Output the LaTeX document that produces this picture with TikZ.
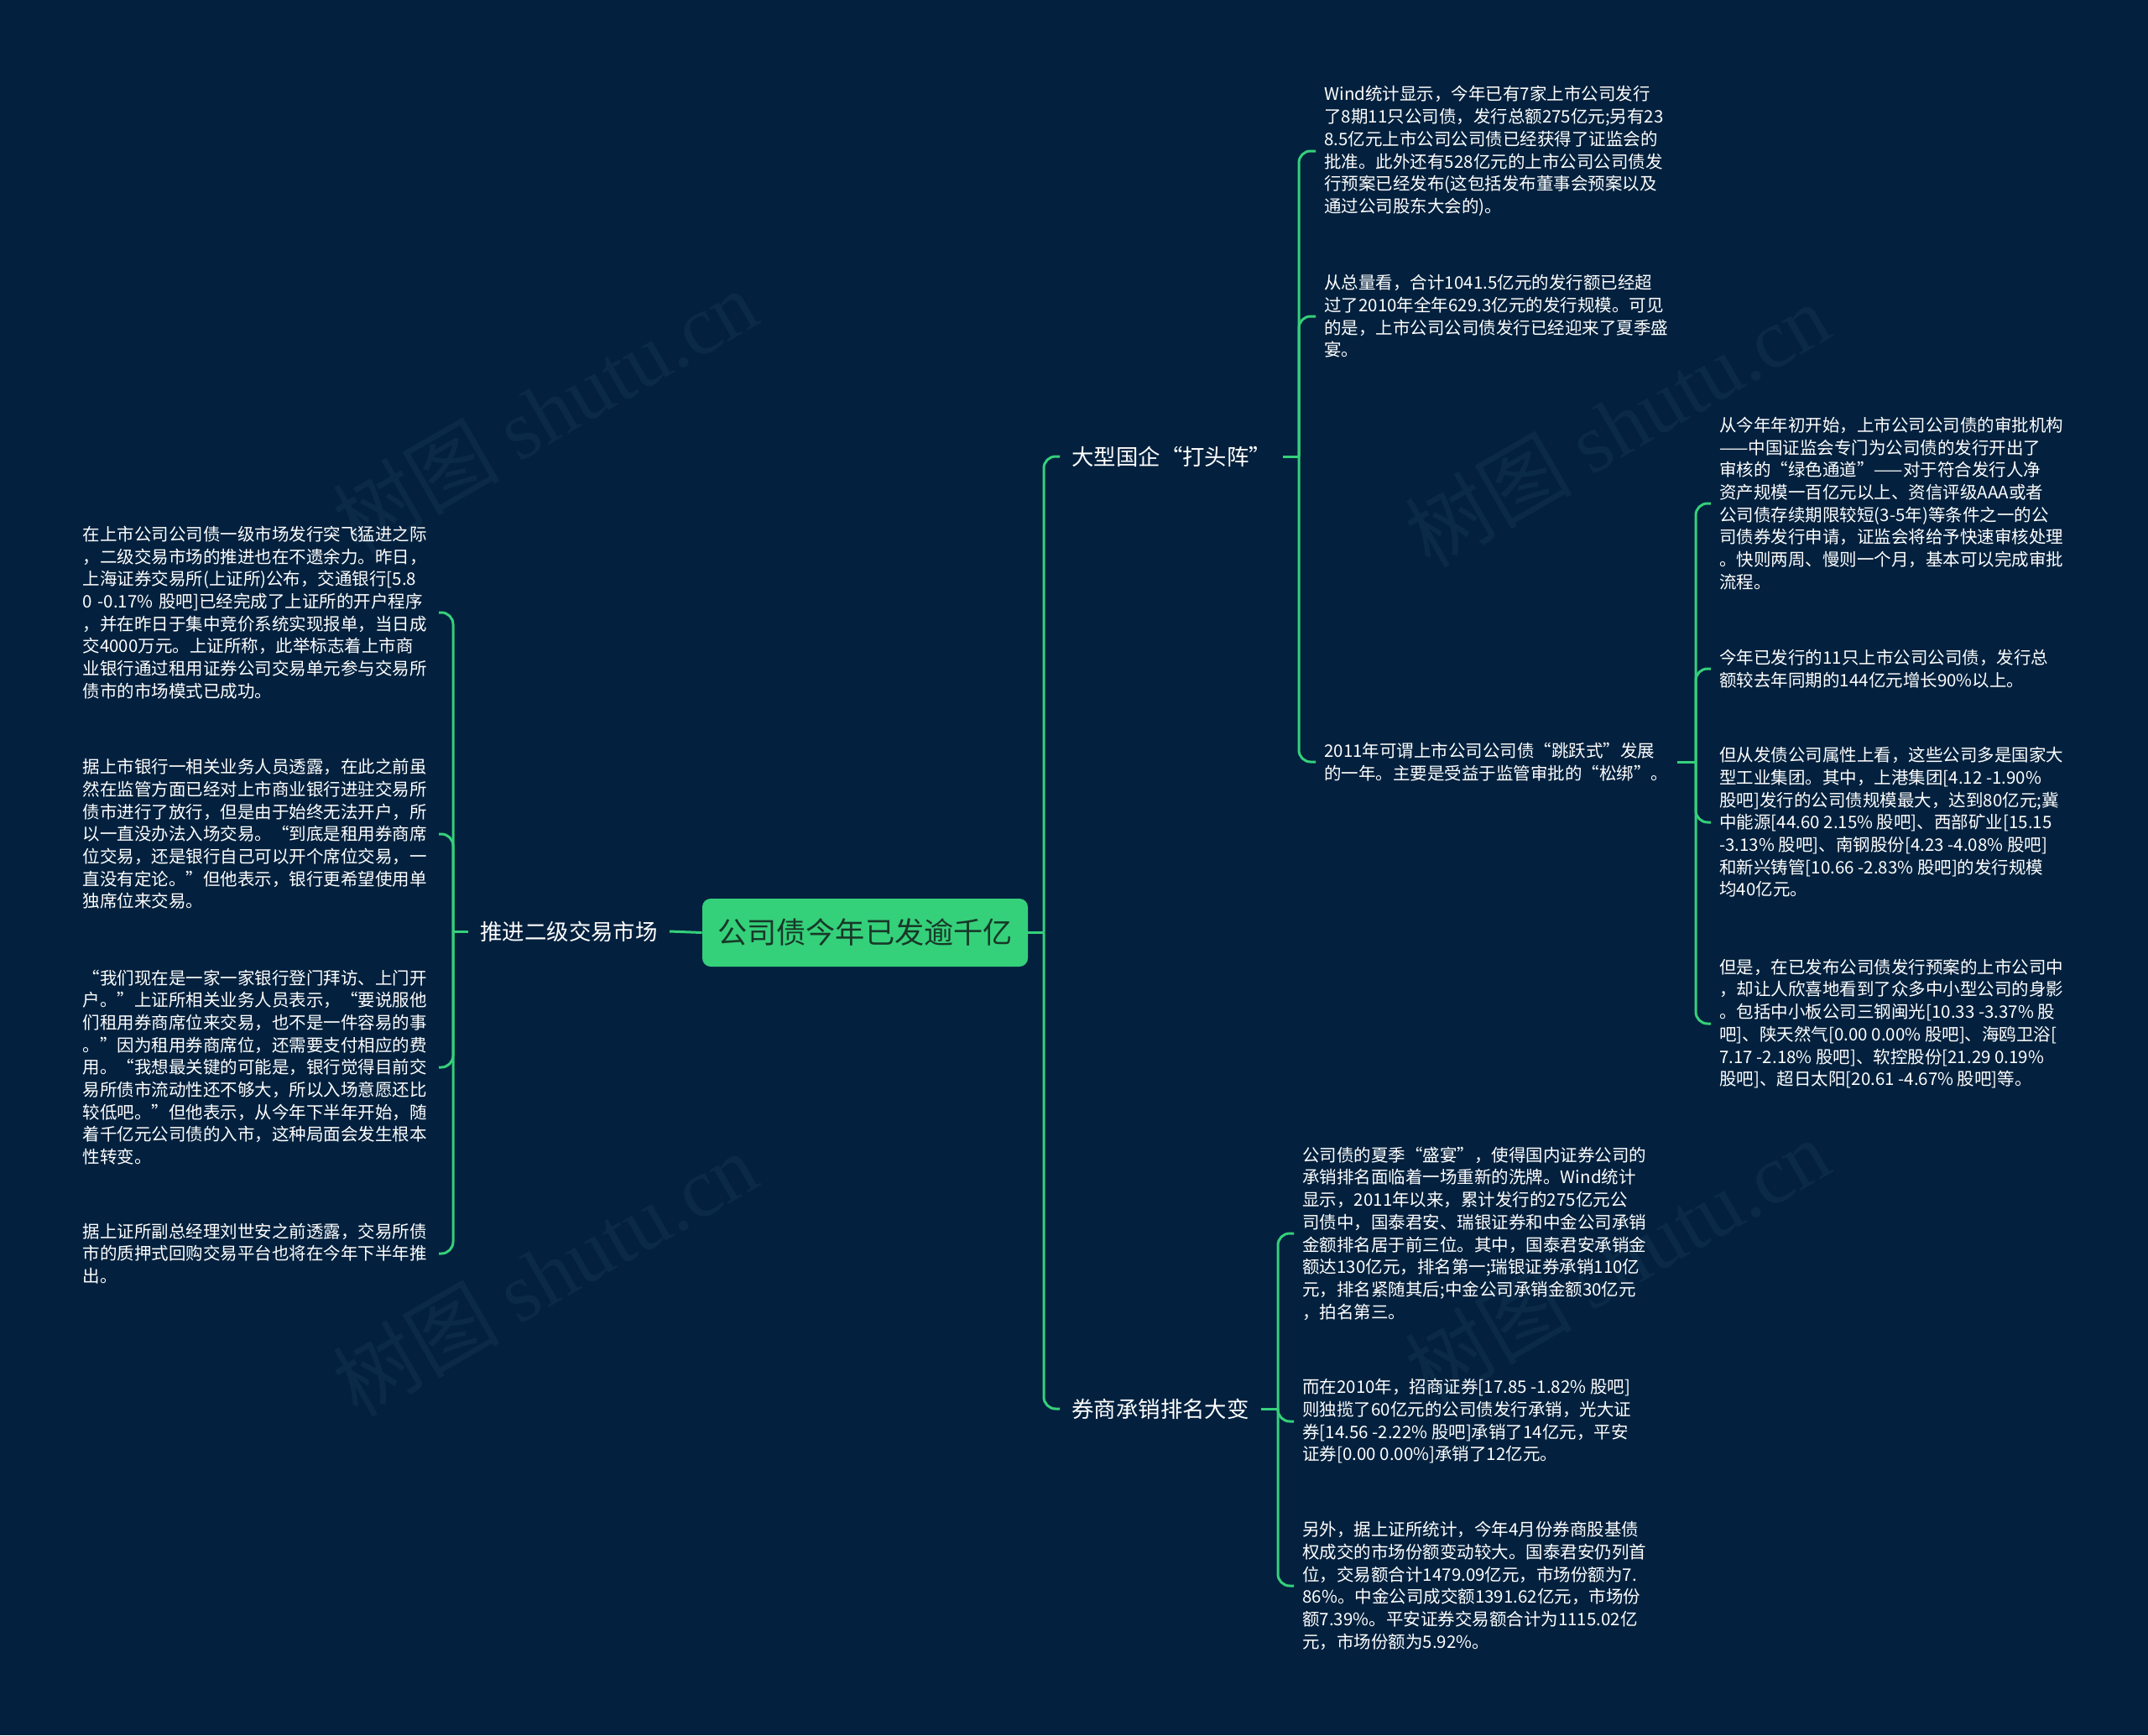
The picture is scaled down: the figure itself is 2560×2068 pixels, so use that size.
\documentclass[tikz,border=0pt]{standalone}
\usepackage{fontspec}
\setmainfont{Noto Sans CJK SC}
\newfontfamily\wmserif{Liberation Serif}
\definecolor{bg}{HTML}{03213E}
\definecolor{lk}{HTML}{35D07A}
\definecolor{rootfill}{HTML}{35D07A}
\definecolor{roottext}{HTML}{173828}
\definecolor{wmc}{HTML}{0A2A47}
\begin{document}
\begin{tikzpicture}[x=0.5pt,y=-0.5pt,
 conn/.style={draw=lk,line width=1.5pt,rounded corners=7pt},
 leaf/.style={anchor=west,align=left,inner xsep=5pt,inner ysep=0pt,text=white,font=\fontsize{10.25pt}{13.35pt}\selectfont},
 leafL/.style={leaf,anchor=east,text width=212pt,inner xsep=0pt},
 lbl/.style={inner xsep=7pt,inner ysep=2pt,text=white,font=\fontsize{13.2pt}{16pt}\selectfont},
 rootbox/.style={fill=rootfill,rounded corners=5pt,minimum width=194pt,minimum height=40.5pt,text=roottext,font=\fontsize{17.6pt}{20pt}\selectfont,inner sep=0pt},
 wm/.style={text=wmc,rotate=30,font=\fontsize{50pt}{55pt}\selectfont}
]
\fill[bg] (0,0) rectangle (2560,2068);
\useasboundingbox (0,0) rectangle (2560,2068);

% watermarks
\node[wm] (wm1) at (649,490) {树图 {\wmserif shutu.cn}};
\node[wm] (wm2) at (1927,506) {树图 {\wmserif shutu.cn}};
\node[wm] (wm3) at (649,1518) {树图 {\wmserif shutu.cn}};
\node[wm] (wm4) at (1927,1502) {树图 {\wmserif shutu.cn}};

% root
\node[rootbox] (root) at (1031,1111.5) {公司债今年已发逾千亿};

% junction points
\coordinate (tR) at (1244,1111.5);
\coordinate (tB) at (1548,544);
\coordinate (tQ) at (1523,1679);
\coordinate (tC) at (2021,908);
\coordinate (tL) at (540,1110);

% labels
\node[lbl,anchor=west] (big) at (1263,544) {大型国企“打头阵”};
\node[lbl,anchor=west] (qs) at (1263,1679) {券商承销排名大变};
\node[lbl] (tj) at (678,1110) {推进二级交易市场};

% group: 大型国企
\node[leaf] (b1) at (1568,180) {Wind统计显示，今年已有7家上市公司发行\\了8期11只公司债，发行总额275亿元;另有23\\8.5亿元上市公司公司债已经获得了证监会的\\批准。此外还有528亿元的上市公司公司债发\\行预案已经发布(这包括发布董事会预案以及\\通过公司股东大会的)。};
\node[leaf] (b2) at (1568,377) {从总量看，合计1041.5亿元的发行额已经超\\过了2010年全年629.3亿元的发行规模。可见\\的是，上市公司公司债发行已经迎来了夏季盛\\宴。};
\node[leaf] (b3) at (1568,908) {2011年可谓上市公司公司债“跳跃式”发展\\的一年。主要是受益于监管审批的“松绑”。};

% right column
\node[leaf] (c1) at (2039,600) {从今年年初开始，上市公司公司债的审批机构\\——中国证监会专门为公司债的发行开出了\\审核的“绿色通道”——对于符合发行人净\\资产规模一百亿元以上、资信评级AAA或者\\公司债存续期限较短(3-5年)等条件之一的公\\司债券发行申请，证监会将给予快速审核处理\\。快则两周、慢则一个月，基本可以完成审批\\流程。};
\node[leaf] (c2) at (2039,797) {今年已发行的11只上市公司公司债，发行总\\额较去年同期的144亿元增长90\%以上。};
\node[leaf] (c3) at (2039,980) {但从发债公司属性上看，这些公司多是国家大\\型工业集团。其中，上港集团[4.12 -1.90\%\\股吧]发行的公司债规模最大，达到80亿元;冀\\中能源[44.60 2.15\% 股吧]、西部矿业[15.15\\-3.13\% 股吧]、南钢股份[4.23 -4.08\% 股吧]\\和新兴铸管[10.66 -2.83\% 股吧]的发行规模\\均40亿元。};
\node[leaf] (c4) at (2039,1220) {但是，在已发布公司债发行预案的上市公司中\\，却让人欣喜地看到了众多中小型公司的身影\\。包括中小板公司三钢闽光[10.33 -3.37\% 股\\吧]、陕天然气[0.00 0.00\% 股吧]、海鸥卫浴[\\7.17 -2.18\% 股吧]、软控股份[21.29 0.19\%\\股吧]、超日太阳[20.61 -4.67\% 股吧]等。};

% group: 券商
\node[leaf] (q1) at (1542,1470) {公司债的夏季“盛宴”，使得国内证券公司的\\承销排名面临着一场重新的洗牌。Wind统计\\显示，2011年以来，累计发行的275亿元公\\司债中，国泰君安、瑞银证券和中金公司承销\\金额排名居于前三位。其中，国泰君安承销金\\额达130亿元，排名第一;瑞银证券承销110亿\\元，排名紧随其后;中金公司承销金额30亿元\\，拍名第三。};
\node[leaf] (q2) at (1542,1694) {而在2010年，招商证券[17.85 -1.82\% 股吧]\\则独揽了60亿元的公司债发行承销，光大证\\券[14.56 -2.22\% 股吧]承销了14亿元，平安\\证券[0.00 0.00\%]承销了12亿元。};
\node[leaf] (q3) at (1542,1890) {另外，据上证所统计，今年4月份券商股基债\\权成交的市场份额变动较大。国泰君安仍列首\\位，交易额合计1479.09亿元，市场份额为7.\\86\%。中金公司成交额1391.62亿元，市场份\\额7.39\%。平安证券交易额合计为1115.02亿\\元，市场份额为5.92\%。};

% left column
\node[leafL] (l1) at (523,730) {在上市公司公司债一级市场发行突飞猛进之际\\，二级交易市场的推进也在不遗余力。昨日，\\上海证券交易所(上证所)公布，交通银行[5.8\\0 -0.17\% 股吧]已经完成了上证所的开户程序\\，并在昨日于集中竞价系统实现报单，当日成\\交4000万元。上证所称，此举标志着上市商\\业银行通过租用证券公司交易单元参与交易所\\债市的市场模式已成功。};
\node[leafL] (l2) at (523,994) {据上市银行一相关业务人员透露，在此之前虽\\然在监管方面已经对上市商业银行进驻交易所\\债市进行了放行，但是由于始终无法开户，所\\以一直没办法入场交易。“到底是租用券商席\\位交易，还是银行自己可以开个席位交易，一\\直没有定论。”但他表示，银行更希望使用单\\独席位来交易。};
\node[leafL] (l3) at (523,1272) {“我们现在是一家一家银行登门拜访、上门开\\户。”上证所相关业务人员表示，“要说服他\\们租用券商席位来交易，也不是一件容易的事\\。”因为租用券商席位，还需要支付相应的费\\用。“我想最关键的可能是，银行觉得目前交\\易所债市流动性还不够大，所以入场意愿还比\\较低吧。”但他表示，从今年下半年开始，随\\着千亿元公司债的入市，这种局面会发生根本\\性转变。};
\node[leafL] (l4) at (523,1494) {据上证所副总经理刘世安之前透露，交易所债\\市的质押式回购交易平台也将在今年下半年推\\出。};

% connectors
\draw[conn] (root.east) -- (tR);
\draw[conn] (tR) |- (big.west);
\draw[conn] (tR) |- (qs.west);
\draw[conn] (big.east) -- (tB);
\draw[conn] (tB) |- (b1.west);
\draw[conn] (tB) |- (b2.west);
\draw[conn] (tB) |- (b3.west);
\draw[conn] (b3.east) -- (tC);
\draw[conn] (tC) |- (c1.west);
\draw[conn] (tC) |- (c2.west);
\draw[conn] (tC) |- (c3.west);
\draw[conn] (tC) |- (c4.west);
\draw[conn] (qs.east) -- (tQ);
\draw[conn] (tQ) |- (q1.west);
\draw[conn] (tQ) |- (q2.west);
\draw[conn] (tQ) |- (q3.west);
\draw[conn] (root.west) -- (tj.east);
\draw[conn] (tj.west) -- (tL);
\draw[conn] (tL) |- (l1.east);
\draw[conn] (tL) |- (l2.east);
\draw[conn] (tL) |- (l3.east);
\draw[conn] (tL) |- (l4.east);
\end{tikzpicture}
\end{document}
